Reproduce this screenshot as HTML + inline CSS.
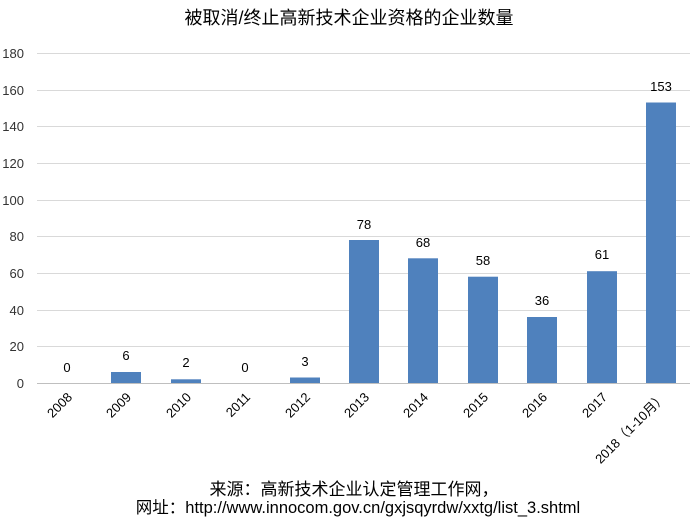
<!DOCTYPE html>
<html><head><meta charset="utf-8"><style>
body{margin:0;background:#fff;}
svg text{font-family:"Liberation Sans","Noto Sans CJK SC",sans-serif;}
</style></head><body>
<svg width="699" height="526" xmlns="http://www.w3.org/2000/svg">
<rect width="699" height="526" fill="#fff"/>
<text x="349" y="24" font-size="18" text-anchor="middle" fill="#000">被取消/终止高新技术企业资格的企业数量</text>
<g stroke="#d9d9d9" stroke-width="1">
<line x1="37" x2="690" y1="53.5" y2="53.5"/>
<line x1="37" x2="690" y1="90.5" y2="90.5"/>
<line x1="37" x2="690" y1="126.5" y2="126.5"/>
<line x1="37" x2="690" y1="163.5" y2="163.5"/>
<line x1="37" x2="690" y1="200.5" y2="200.5"/>
<line x1="37" x2="690" y1="236.5" y2="236.5"/>
<line x1="37" x2="690" y1="273.5" y2="273.5"/>
<line x1="37" x2="690" y1="310.5" y2="310.5"/>
<line x1="37" x2="690" y1="346.5" y2="346.5"/>
</g>
<line x1="37" x2="690" y1="383.5" y2="383.5" stroke="#bfbfbf"/>
<g font-size="13" text-anchor="end" fill="#333">
<text x="24" y="58">180</text><text x="24" y="95">160</text><text x="24" y="131">140</text>
<text x="24" y="168">120</text><text x="24" y="205">100</text><text x="24" y="241">80</text>
<text x="24" y="278">60</text><text x="24" y="315">40</text><text x="24" y="351">20</text>
<text x="24" y="388">0</text>
</g>
<g fill="#4f81bd">
<rect x="111" y="372" width="30" height="11"/>
<rect x="171" y="379.3" width="30" height="3.7"/>
<rect x="290" y="377.5" width="30" height="5.5"/>
<rect x="349" y="240" width="30" height="143"/>
<rect x="408" y="258.3" width="30" height="124.7"/>
<rect x="468" y="276.7" width="30" height="106.3"/>
<rect x="527" y="317" width="30" height="66"/>
<rect x="587" y="271.2" width="30" height="111.8"/>
<rect x="646" y="102.5" width="30" height="280.5"/>
</g>
<g font-size="13" text-anchor="middle" fill="#000">
<text x="67" y="372">0</text><text x="126" y="360">6</text><text x="186" y="367">2</text>
<text x="245" y="372">0</text><text x="305" y="366">3</text><text x="364" y="229">78</text>
<text x="423" y="247">68</text><text x="483" y="265">58</text><text x="542" y="305">36</text>
<text x="602" y="259">61</text><text x="661" y="91">153</text>
</g>
<g font-size="13" text-anchor="end" fill="#000">
<text transform="translate(73,398) rotate(-45)">2008</text>
<text transform="translate(132,398) rotate(-45)">2009</text>
<text transform="translate(192,398) rotate(-45)">2010</text>
<text transform="translate(251,398) rotate(-45)">2011</text>
<text transform="translate(311,398) rotate(-45)">2012</text>
<text transform="translate(370,398) rotate(-45)">2013</text>
<text transform="translate(429,398) rotate(-45)">2014</text>
<text transform="translate(489,398) rotate(-45)">2015</text>
<text transform="translate(548,398) rotate(-45)">2016</text>
<text transform="translate(608,398) rotate(-45)">2017</text>
<text transform="translate(667,398) rotate(-45)">2018（1-10月）</text>
</g>
<text x="354" y="495" font-size="17" text-anchor="middle" fill="#000">来源：高新技术企业认定管理工作网，</text>
<text x="358" y="513" font-size="16.5" text-anchor="middle" fill="#000">网址：http://www.innocom.gov.cn/gxjsqyrdw/xxtg/list_3.shtml</text>
</svg>
</body></html>
